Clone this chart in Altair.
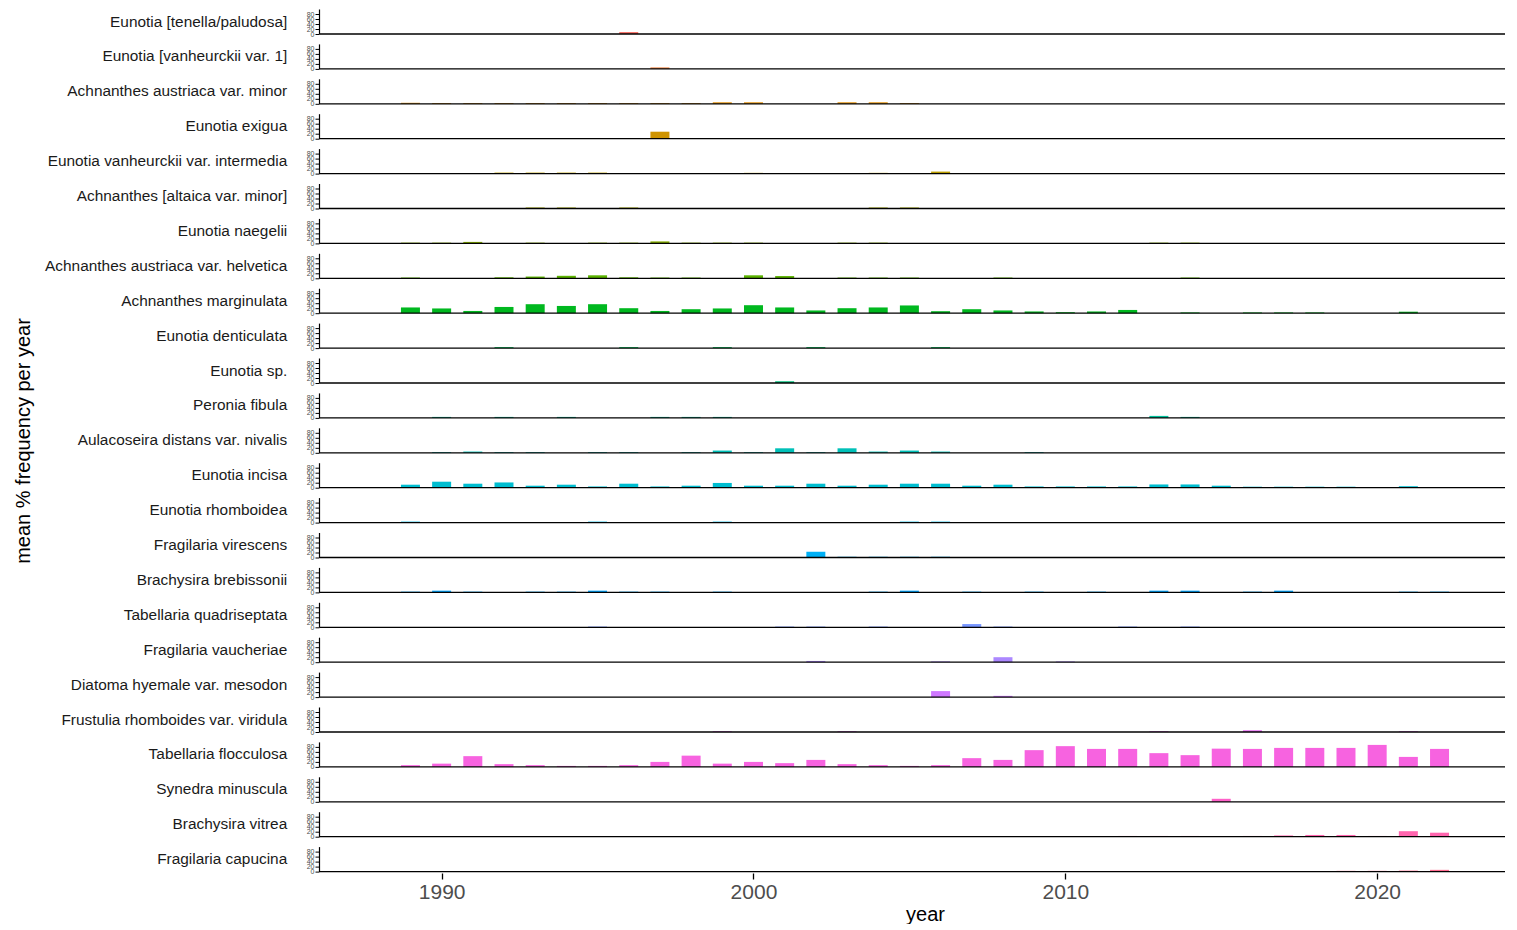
import math
import altair as alt
import pandas as pd

YEARS = list(range(1989, 2023))

SPECIES = [
    "Eunotia [tenella/paludosa]",
    "Eunotia [vanheurckii var. 1]",
    "Achnanthes austriaca var. minor",
    "Eunotia exigua",
    "Eunotia vanheurckii var. intermedia",
    "Achnanthes [altaica var. minor]",
    "Eunotia naegelii",
    "Achnanthes austriaca var. helvetica",
    "Achnanthes marginulata",
    "Eunotia denticulata",
    "Eunotia sp.",
    "Peronia fibula",
    "Aulacoseira distans var. nivalis",
    "Eunotia incisa",
    "Eunotia rhomboidea",
    "Fragilaria virescens",
    "Brachysira brebissonii",
    "Tabellaria quadriseptata",
    "Fragilaria vaucheriae",
    "Diatoma hyemale var. mesodon",
    "Frustulia rhomboides var. viridula",
    "Tabellaria flocculosa",
    "Synedra minuscula",
    "Brachysira vitrea",
    "Fragilaria capucina",
]

#            1989 ......................... 1998 | 1999 ...................... 2008 | 2009 ...................... 2018 | 2019 . 2022
eun_tenella = [0, 0, 0, 0, 0, 0, 0, 8, 0, 0,   0, 0, 0, 0, 0, 0, 0, 0, 0, 0,   0, 0, 0, 0, 0, 0, 0, 0, 0, 0,   0, 0, 0, 0]
eun_vanh1 = [0, 0, 0, 0, 0, 0, 0, 0, 6, 0,   0, 0, 0, 0, 0, 0, 0, 0, 0, 0,   0, 0, 0, 0, 0, 0, 0, 0, 0, 0,   0, 0, 0, 0]
ach_aus_min = [4, 3, 3, 3, 3, 3, 3, 3, 3, 3,   6, 6, 0, 0, 6, 6, 3, 0, 0, 0,   0, 0, 0, 0, 0, 0, 0, 0, 0, 0,   0, 0, 0, 0]
eun_exigua = [0, 0, 0, 0, 0, 0, 0, 0, 28, 0,   0, 0, 0, 0, 0, 0, 0, 0, 0, 0,   0, 0, 0, 0, 0, 0, 0, 0, 0, 0,   0, 0, 0, 0]
eun_vanh_int = [0, 0, 0, 4, 4, 4, 4, 0, 0, 0,   0, 3, 0, 0, 0, 3, 0, 8, 0, 0,   0, 0, 0, 0, 0, 0, 0, 0, 0, 0,   0, 0, 0, 0]
ach_altaica = [0, 0, 0, 0, 4, 4, 0, 4, 0, 0,   0, 0, 0, 0, 0, 4, 4, 0, 0, 0,   0, 0, 0, 0, 0, 0, 0, 0, 0, 0,   0, 0, 0, 0]
eun_naegelii = [3, 3, 6, 0, 3, 0, 3, 3, 8, 3,   3, 3, 0, 0, 3, 3, 0, 0, 0, 0,   0, 0, 0, 0, 3, 3, 0, 0, 0, 0,   0, 0, 0, 0]
ach_aus_helv = [3, 0, 0, 4, 7, 10, 12, 4, 3, 3,   0, 12, 9, 0, 3, 3, 3, 0, 0, 3,   0, 0, 0, 0, 0, 3, 0, 0, 0, 0,   0, 0, 0, 0]
ach_marginulata = [23, 19, 9, 25, 36, 29, 36, 20, 9, 16,   19, 32, 23, 11, 20, 23, 31, 8, 16, 11,   7, 4, 7, 13, 0, 3, 0, 3, 3, 3,   0, 0, 6, 0]
eun_denticulata = [0, 0, 0, 4, 0, 0, 0, 4, 0, 0,   4, 0, 0, 4, 0, 0, 0, 4, 0, 0,   0, 0, 0, 0, 0, 0, 0, 0, 0, 0,   0, 0, 0, 0]
eun_sp = [0, 0, 0, 0, 0, 0, 0, 0, 0, 0,   0, 0, 7, 0, 0, 0, 0, 0, 0, 0,   0, 0, 0, 0, 0, 0, 0, 0, 0, 0,   0, 0, 0, 0]
per_fibula = [0, 4, 0, 4, 0, 4, 0, 0, 4, 4,   4, 0, 0, 0, 0, 0, 0, 0, 0, 0,   0, 0, 0, 0, 8, 4, 0, 0, 0, 0,   0, 0, 0, 0]
aul_distans = [0, 3, 5, 3, 3, 0, 3, 3, 0, 3,   9, 3, 18, 3, 18, 5, 9, 5, 0, 0,   3, 0, 0, 0, 0, 0, 0, 0, 0, 0,   0, 0, 0, 0]
eun_incisa = [12, 24, 16, 21, 8, 12, 5, 16, 5, 8,   19, 8, 8, 16, 8, 12, 16, 16, 8, 12,   5, 5, 5, 5, 13, 13, 8, 4, 4, 4,   4, 0, 6, 0]
eun_rhomboidea = [4, 0, 0, 0, 0, 0, 4, 0, 0, 0,   4, 0, 0, 0, 0, 0, 4, 4, 0, 0,   0, 0, 0, 0, 0, 0, 0, 0, 0, 0,   0, 0, 0, 0]
fra_virescens = [0, 0, 0, 0, 0, 0, 0, 0, 0, 0,   0, 0, 0, 23, 3, 3, 3, 3, 0, 0,   0, 0, 0, 0, 0, 0, 0, 0, 0, 0,   0, 0, 0, 0]
bra_brebissonii = [3, 7, 3, 0, 3, 3, 7, 3, 3, 0,   3, 0, 0, 0, 0, 3, 7, 0, 3, 0,   3, 0, 3, 0, 7, 7, 0, 3, 7, 0,   0, 0, 3, 3]
tab_quadri = [0, 0, 0, 0, 0, 0, 3, 0, 0, 0,   0, 0, 3, 3, 0, 3, 0, 0, 13, 3,   0, 0, 0, 3, 0, 3, 0, 0, 0, 0,   0, 0, 0, 0]
fra_vaucheriae = [0, 0, 0, 0, 0, 0, 0, 0, 0, 0,   0, 0, 0, 5, 0, 0, 0, 3, 0, 20,   0, 3, 0, 0, 0, 0, 0, 0, 0, 0,   0, 0, 0, 0]
dia_hyemale = [0, 0, 0, 0, 0, 0, 0, 0, 0, 0,   0, 0, 0, 0, 0, 0, 0, 24, 0, 5,   0, 0, 0, 0, 0, 0, 0, 0, 0, 0,   0, 0, 0, 0]
fru_rhomboides = [0, 0, 0, 0, 0, 0, 0, 0, 0, 0,   3, 0, 0, 0, 3, 0, 0, 0, 0, 0,   0, 0, 0, 0, 3, 0, 0, 7, 0, 0,   0, 0, 3, 0]
tab_flocculosa = [7, 13, 43, 11, 7, 4, 4, 7, 20, 45,   13, 20, 15, 28, 11, 7, 4, 7, 35, 28,   67, 83, 72, 72, 55, 47, 73, 72, 76, 76,   76, 88, 40, 72]
syn_minuscula = [0, 0, 0, 0, 0, 0, 0, 0, 0, 0,   0, 0, 0, 0, 0, 0, 0, 0, 0, 0,   0, 0, 0, 0, 0, 0, 12, 0, 0, 0,   0, 0, 0, 0]
bra_vitrea = [0, 0, 0, 0, 0, 0, 0, 0, 0, 0,   0, 0, 0, 0, 0, 0, 0, 0, 0, 0,   0, 0, 0, 3, 3, 3, 0, 3, 5, 7,   7, 3, 22, 16]
fra_capucina = [0, 0, 0, 0, 0, 0, 0, 0, 0, 0,   0, 0, 0, 0, 0, 0, 0, 0, 0, 0,   0, 0, 0, 0, 0, 0, 0, 0, 0, 0,   3, 3, 4, 7]

SERIES = [
    eun_tenella, eun_vanh1, ach_aus_min, eun_exigua, eun_vanh_int, ach_altaica,
    eun_naegelii, ach_aus_helv, ach_marginulata, eun_denticulata, eun_sp,
    per_fibula, aul_distans, eun_incisa, eun_rhomboidea, fra_virescens,
    bra_brebissonii, tab_quadri, fra_vaucheriae, dia_hyemale, fru_rhomboides,
    tab_flocculosa, syn_minuscula, bra_vitrea, fra_capucina,
]


def hcl_hex(h, c=100.0, l=65.0):
    """ggplot2-style hue colour (polar LUV -> sRGB)."""
    hr = math.radians(h)
    U, V = c * math.cos(hr), c * math.sin(hr)
    Xn, Yn, Zn = 95.047, 100.0, 108.883
    Y = Yn * ((l + 16) / 116) ** 3 if l > 8 else Yn * l / 903.3
    t = Xn + Yn + Zn
    x, y = Xn / t, Yn / t
    uN = 2 * x / (6 * y - x + 1.5)
    vN = 4.5 * y / (6 * y - x + 1.5)
    u = U / (13 * l) + uN
    v = V / (13 * l) + vN
    X = 9.0 * Y * u / (4 * v)
    Z = -X / 3 - 5 * Y + 3 * Y / v
    X, Y, Z = X / 100, Y / 100, Z / 100
    r = 3.240479 * X - 1.537150 * Y - 0.498535 * Z
    g = -0.969256 * X + 1.875992 * Y + 0.041556 * Z
    b = 0.055648 * X - 0.204043 * Y + 1.057311 * Z

    def gam(val):
        val = 12.92 * val if val <= 0.0031308 else 1.055 * val ** (1 / 2.4) - 0.055
        return max(0, min(255, round(val * 255)))

    return "#%02X%02X%02X" % (gam(r), gam(g), gam(b))


n = len(SPECIES)
COLORS = [hcl_hex(15 + i * 360 / n) for i in range(n)]

rows = []
for sp, vals in zip(SPECIES, SERIES):
    for yr, v in zip(YEARS, vals):
        if v > 0:
            rows.append({"species": sp, "year": yr, "value": v})
df = pd.DataFrame(rows)

W = 1185
H = 25
FONT = "Liberation Sans"

bars = alt.Chart().mark_bar(size=19).encode(
    x=alt.X(
        "year:Q",
        scale=alt.Scale(domain=[1986.26, 1986.26 + W / 31.45], nice=False, zero=False),
        axis=alt.Axis(
            values=[1990, 2000, 2010, 2020], format="d", grid=False, domain=False,
            tickSize=6, tickColor="black", tickWidth=1.3,
            labelFontSize=21, labelColor="#4D4D4D", labelPadding=2,
            title="year", titleFontSize=20, titleFontWeight="normal",
            titleColor="black", titlePadding=2, titleX=605,
        ),
    ),
    y=alt.Y(
        "value:Q",
        scale=alt.Scale(domain=[0, 100], nice=False),
        axis=alt.Axis(
            values=[0, 20, 40, 60, 80], grid=False, title=None,
            labelFontSize=7, labelColor="#4D4D4D", labelOverlap=False,
            labelPadding=1, labelFlush=False, tickSize=4, tickColor="black",
            domainColor="black", domainWidth=1.2,
        ),
    ),
    color=alt.Color("species:N", scale=alt.Scale(domain=SPECIES, range=COLORS), legend=None),
)

baseline = alt.Chart().mark_rule(color="black", strokeWidth=1.3).encode(
    x=alt.value(0), x2=alt.value(W), y=alt.value(H)
).transform_aggregate(n="count()", groupby=["species"])

chart = alt.layer(bars, baseline, data=df).properties(width=W, height=H).facet(
    row=alt.Row(
        "species:N",
        sort=SPECIES,
        title="mean % frequency per year",
        header=alt.Header(
            labelAngle=0, labelAlign="left", labelFontSize=15.4, labelFont=FONT,
            labelColor="#1A1A1A", labelPadding=19,
            titleFontSize=20, titleFont=FONT, titleFontWeight="normal",
            titleColor="black", titlePadding=1,
        ),
    ),
    spacing=8.9,
).properties(
    padding={"left": 6, "top": 1, "right": 0, "bottom": 0}
).configure(font=FONT).configure_view(stroke=None)

chart.save("out.html", embed_options={"renderer": "svg", "actions": False})
